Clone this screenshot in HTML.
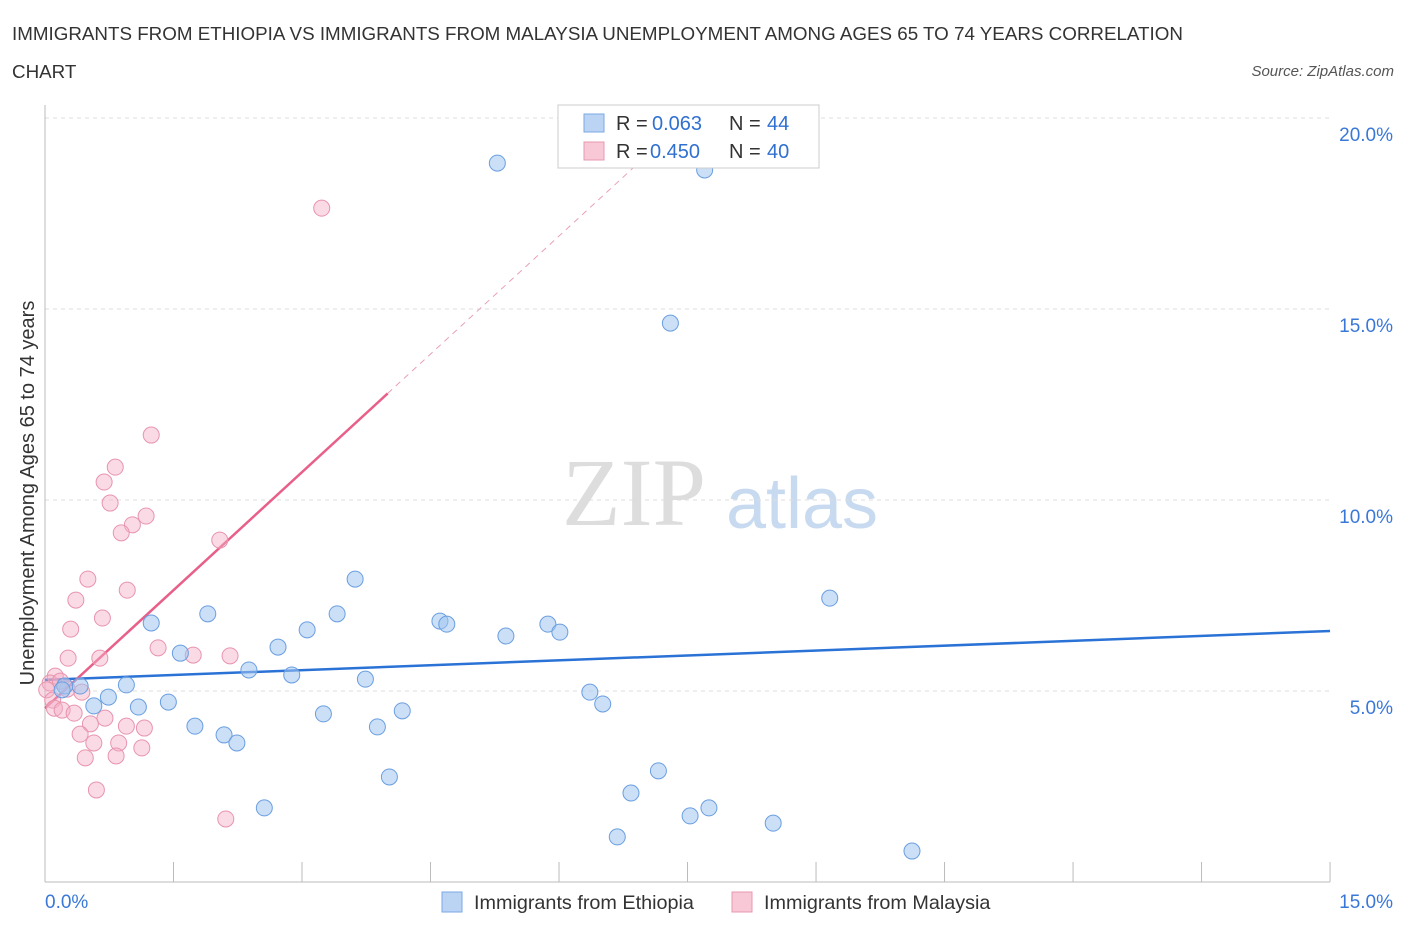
<!DOCTYPE html>
<html><head><meta charset="utf-8">
<style>
body{margin:0;background:#fff;font-family:"Liberation Sans",sans-serif;}
svg{display:block}
</style></head><body>
<svg id="chart" width="1406" height="930">
<text x="12" y="40" font-size="18.8" fill="#333">IMMIGRANTS FROM ETHIOPIA VS IMMIGRANTS FROM MALAYSIA UNEMPLOYMENT AMONG AGES 65 TO 74 YEARS CORRELATION</text>
<text x="12" y="78" font-size="18.8" fill="#333">CHART</text>
<text x="1394" y="76" font-size="15" fill="#555" font-style="italic" text-anchor="end">Source: ZipAtlas.com</text>
<text x="634" y="525" font-size="96" fill="#ddd" font-family="Liberation Serif,serif" text-anchor="middle">ZIP</text>
<text x="802" y="528" font-size="72" fill="#c8daf0" text-anchor="middle">atlas</text>
<text transform="translate(34,493) rotate(-90)" font-size="20" fill="#333" text-anchor="middle">Unemployment Among Ages 65 to 74 years</text>
<g id="grid"></g><g id="axes"></g><g id="lines"></g><g id="pts"></g>
<g>
<rect x="558" y="105" width="261" height="63" fill="#fff" stroke="#ccc"/>
<rect x="584" y="114" width="20" height="18" fill="#bcd4f4" stroke="#7aa8e4"/>
<text y="130" font-size="20" fill="#333"><tspan x="616">R =</tspan><tspan x="652" fill="#3070d0">0.063</tspan><tspan x="729">N =</tspan><tspan x="767" fill="#3070d0">44</tspan></text>
<rect x="584" y="142" width="20" height="18" fill="#f8c8d6" stroke="#e898b0"/>
<text y="158" font-size="20" fill="#333"><tspan x="616">R =</tspan><tspan x="650" fill="#3070d0">0.450</tspan><tspan x="729">N =</tspan><tspan x="767" fill="#3070d0">40</tspan></text>
</g>
<g>
<rect x="442" y="892" width="20" height="20" fill="#bcd4f4" stroke="#7aa8e4"/>
<text x="474" y="909" font-size="19.8" fill="#333">Immigrants from Ethiopia</text>
<rect x="732" y="892" width="20" height="20" fill="#f8c8d6" stroke="#e898b0"/>
<text x="764" y="909" font-size="19.8" fill="#333">Immigrants from Malaysia</text>
</g>
</svg>
<script>
const blueX=[5.28,7.70,7.30,9.16,3.62,3.41,1.90,1.24,3.06,2.72,4.61,4.69,5.38,5.87,6.01,1.58,2.38,2.88,3.74,0.95,0.41,0.23,0.20,0.74,1.44,0.57,1.09,6.36,6.51,4.17,3.25,1.75,3.88,2.09,2.24,4.02,7.16,6.84,2.56,7.75,7.53,8.50,6.68,10.12];
const blueY=[18.82,18.64,14.63,7.43,7.93,7.02,7.02,6.78,6.60,6.15,6.83,6.75,6.44,6.75,6.54,5.99,5.55,5.42,5.31,5.16,5.13,5.13,5.03,4.84,4.71,4.61,4.58,4.97,4.66,4.48,4.40,4.08,4.06,3.85,3.64,2.75,2.91,2.33,1.94,1.94,1.73,1.54,1.18,0.81];
const pinkX=[3.23,1.24,0.82,0.69,0.76,1.18,1.02,0.89,2.04,0.50,0.96,0.36,0.67,0.30,1.32,1.73,2.16,0.64,0.27,0.12,0.06,0.18,0.26,0.02,0.43,0.09,0.11,0.20,0.34,0.70,0.53,0.95,1.16,0.41,0.57,0.86,1.13,0.83,0.47,0.60,2.11];
const pinkY=[17.64,11.70,10.86,10.47,9.92,9.58,9.35,9.14,8.95,7.93,7.64,7.38,6.91,6.62,6.13,5.94,5.92,5.86,5.86,5.39,5.21,5.26,5.05,5.03,4.97,4.76,4.55,4.50,4.42,4.29,4.14,4.08,4.03,3.87,3.64,3.64,3.51,3.30,3.25,2.41,1.65];
const yTicks=[5,10,15,20];
const xTickLabels=["0.0%","15.0%"];
const blueTrend=[5.29,6.57];
const pinkTrend=[4.55,2.06];
const NS="http://www.w3.org/2000/svg";
const sx=v=>45+v*85.67, sy=v=>882-v*38.2;
function mk(t,a,p){const e=document.createElementNS(NS,t);for(const k in a)e.setAttribute(k,a[k]);p.appendChild(e);return e;}
const grid=document.getElementById('grid'),axes=document.getElementById('axes');
yTicks.forEach(t=>{
 const l=mk('line',{x1:45,x2:1330,y1:sy(t),y2:sy(t),stroke:'#ddd','stroke-dasharray':'4,4'},grid);
 
 
 const tx=mk('text',{x:1393,y:sy(t)+23,'font-size':19,fill:'#3a78d8','text-anchor':'end'},axes);
 tx.textContent=t.toFixed(1)+'%';
 
 
});
mk('line',{x1:45,x2:45,y1:105,y2:882,stroke:'#bbb'},axes);
mk('line',{x1:45,x2:1330,y1:882,y2:882,stroke:'#bbb'},axes);
for(let i=0;i<=10;i++){const x=sx(i*1.5);const t=mk('line',{x1:x,x2:x,y1:862,y2:882,stroke:'#bbb'},axes);
 
 }
[[45,'start',0],[1393,'end',1]].forEach(([x,a,i])=>{const t=mk('text',{x:x,y:908,'font-size':19,fill:'#3a78d8','text-anchor':a},axes);t.textContent=xTickLabels[i];
 
 });
const L=document.getElementById('lines');
const bl=mk('line',{x1:sx(0),y1:sy(blueTrend[0]),x2:sx(15),y2:sy(blueTrend[1]),stroke:'#2a72d6','stroke-width':2.5},L);


const pe=4.0,pd=(20-pinkTrend[0])/pinkTrend[1];
const pl=mk('line',{x1:sx(0),y1:sy(pinkTrend[0]),x2:sx(pe),y2:sy(pinkTrend[0]+pinkTrend[1]*pe),stroke:'#e8608a','stroke-width':2.5},L);


const pdl=mk('line',{x1:sx(pe),y1:sy(pinkTrend[0]+pinkTrend[1]*pe),x2:sx(pd),y2:sy(20),stroke:'#e8a0b8','stroke-width':1,'stroke-dasharray':'6,5'},L);


const P=document.getElementById('pts');
pinkX.forEach((x,i)=>{const c=mk('circle',{cx:sx(x),cy:sy(pinkY[i]),r:8,fill:'rgba(244,176,198,0.45)',stroke:'#e894ae','stroke-width':1},P);
 
 });
blueX.forEach((x,i)=>{const c=mk('circle',{cx:sx(x),cy:sy(blueY[i]),r:8,fill:'rgba(160,196,240,0.55)',stroke:'#6a9ee0','stroke-width':1},P);
 
 });
</script>
</body></html>
